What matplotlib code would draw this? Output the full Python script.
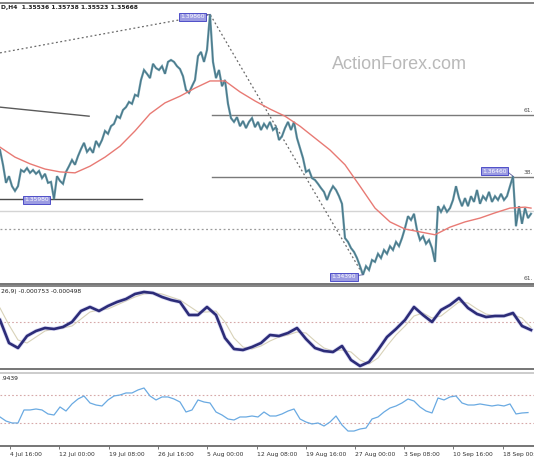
import numpy as np
import matplotlib
matplotlib.use("Agg")
import matplotlib.pyplot as plt

# H4 price closes, one value per bar slot (bar index 0..177)
close = [
    1.3701, 1.3670, 1.3632, 1.3646, 1.3625, 1.3615, 1.3625, 1.3659, 1.3655, 1.3663,
    1.3653, 1.3659, 1.3651, 1.3657, 1.3642, 1.3651, 1.3632, 1.3634, 1.3598, 1.3646,
    1.3636, 1.3630, 1.3655, 1.3667, 1.3680, 1.3670, 1.3688, 1.3703, 1.3716, 1.3697,
    1.3705, 1.3695, 1.3720, 1.3709, 1.3722, 1.3741, 1.3735, 1.3751, 1.3756, 1.3772,
    1.3768, 1.3785, 1.3791, 1.3802, 1.3798, 1.3817, 1.3814, 1.3848, 1.3869, 1.3861,
    1.3852, 1.3882, 1.3873, 1.3869, 1.3877, 1.3861, 1.3886, 1.3890, 1.3886, 1.3877,
    1.3871, 1.3856, 1.3827, 1.3821, 1.3835, 1.3848, 1.3898, 1.3907, 1.3886, 1.3911,
    1.3986, 1.3886, 1.3852, 1.3869, 1.3835, 1.3848, 1.3798, 1.3768, 1.3760, 1.3770,
    1.3751, 1.3762, 1.3747, 1.3760, 1.3768, 1.3749, 1.3760, 1.3743, 1.3756, 1.3747,
    1.3760, 1.3743, 1.3749, 1.3722, 1.3730, 1.3747, 1.3760, 1.3743, 1.3760, 1.3726,
    1.3705, 1.3684, 1.3655, 1.3659, 1.3642, 1.3638, 1.3630, 1.3621, 1.3613, 1.3596,
    1.3613, 1.3625, 1.3617, 1.3604, 1.3588, 1.3516, 1.3508, 1.3495, 1.3487, 1.3474,
    1.3457, 1.3439, 1.3457, 1.3449, 1.3470, 1.3466, 1.3483, 1.3474, 1.3491, 1.3483,
    1.3499, 1.3491, 1.3508, 1.3499, 1.3516, 1.3537, 1.3562, 1.3554, 1.3567, 1.3533,
    1.3512, 1.3520, 1.3504, 1.3512, 1.3495, 1.3466, 1.3583, 1.3571, 1.3583, 1.3571,
    1.3579, 1.3596, 1.3625, 1.3600, 1.3583, 1.3600, 1.3583, 1.3604, 1.3592, 1.3617,
    1.3588, 1.3604, 1.3596, 1.3613, 1.3592, 1.3604, 1.3596, 1.3609, 1.3596, 1.3604,
    1.3625, 1.3646, 1.3541, 1.3583, 1.3546, 1.3579, 1.3558, 1.3567,
]

# moving average (red)
ma_bars = [0, 5, 10, 15, 20, 25, 30, 35, 40, 45, 50, 55, 60, 65, 70, 75, 80, 85, 90, 95,
           100, 105, 110, 115, 120, 125, 130, 135, 140, 145, 150, 155, 160, 165, 170, 175, 177]
ma = [1.3707, 1.3686, 1.3672, 1.3661, 1.3655, 1.3653, 1.3667, 1.3686, 1.3709, 1.3741,
      1.3777, 1.3800, 1.3814, 1.3831, 1.3846, 1.3846, 1.3823, 1.3804, 1.3787, 1.3772,
      1.3751, 1.3726, 1.3701, 1.3670, 1.3625, 1.3579, 1.3550, 1.3535, 1.3529, 1.3523,
      1.3539, 1.3550, 1.3558, 1.3569, 1.3579, 1.3581, 1.3579]

# MACD(12,26,9), every 3 bars
macd = [0.000188, -0.001974, -0.002444, -0.001316, -0.000846, -0.000564, -0.000658, -0.000470, 0.0, 0.001034,
        0.001410, 0.001034, 0.001504, 0.001880, 0.002162, 0.002632, 0.002820, 0.002726, 0.002350, 0.002068,
        0.001880, 0.000658, 0.000658, 0.001410, 0.000658, -0.001504, -0.002538, -0.002632, -0.002350, -0.001974,
        -0.001222, -0.001316, -0.001034, -0.000564, -0.001598, -0.002444, -0.002726, -0.002820, -0.002256, -0.003572,
        -0.004136, -0.003760, -0.002632, -0.001410, -0.000658, 0.000188, 0.001410, 0.000658, 0.0, 0.001128,
        0.001598, 0.002256, 0.001316, 0.000752, 0.000470, 0.000564, 0.000564, 0.000846, -0.000376, -0.000753]
signal = [0.001316, -0.000282, -0.001692, -0.001974, -0.001410, -0.000846, -0.000658, -0.000564, -0.000376, 0.000282,
          0.000940, 0.001128, 0.001222, 0.001598, 0.001974, 0.002350, 0.002632, 0.002726, 0.002632, 0.002350,
          0.002068, 0.001504, 0.000940, 0.000940, 0.001034, 0.0, -0.001504, -0.002350, -0.002538, -0.002256,
          -0.001786, -0.001410, -0.001222, -0.000940, -0.001034, -0.001786, -0.002444, -0.002726, -0.002632, -0.002820,
          -0.003572, -0.003948, -0.003384, -0.002256, -0.001222, -0.000376, 0.000564, 0.000846, 0.000376, 0.000564,
          0.001222, 0.001880, 0.001786, 0.001222, 0.000752, 0.000564, 0.000564, 0.000658, 0.000376, -0.000498]

# RSI, every 2 bars
rsi = [38.6, 32.8, 30.0, 30.0, 48.6, 48.6, 50.0, 48.6, 42.9, 41.4,
       52.9, 47.1, 57.2, 64.3, 68.6, 58.6, 55.7, 54.3, 62.9, 68.6,
       70.0, 72.9, 72.9, 77.2, 80.0, 68.6, 62.9, 67.2, 67.2, 64.3,
       60.0, 45.7, 48.6, 62.9, 60.0, 58.6, 45.7, 41.4, 35.7, 34.3,
       38.6, 38.6, 40.0, 38.6, 45.7, 40.0, 40.0, 42.9, 47.1, 50.0,
       35.7, 31.4, 28.6, 30.0, 25.7, 31.4, 40.0, 27.1, 18.5, 18.5,
       21.4, 22.8, 35.7, 38.6, 45.7, 51.4, 54.3, 58.6, 64.3, 61.4,
       52.9, 47.1, 44.3, 65.7, 62.9, 67.2, 68.6, 58.6, 55.7, 55.7,
       57.2, 55.7, 54.3, 55.7, 54.3, 57.2, 42.9, 44.3, 44.9]

tick_pos = [3.3, 19.7, 36.3, 52.7, 69, 85.7, 102, 118.3, 134.7, 151, 167.7]
tick_labels = ["4 Jul 16:00", "12 Jul 00:00", "19 Jul 08:00", "26 Jul 16:00", "5 Aug 00:00",
               "12 Aug 08:00", "19 Aug 16:00", "27 Aug 00:00", "3 Sep 08:00", "10 Sep 16:00",
               "18 Sep 00:00"]

# drawn objects
fib_levels = [1.3775, 1.3644]
fib_names = ["61.", "38."]
fib_low_name = "61."
fib_low = 1.3424
support = 1.3598
bid_level = 1.3573
dotted_level = 1.3535
trend_x = [0, 29.7]
trend_y = [1.3791, 1.3772]
fan_x = [0, 70, 121]
fan_y = [1.3905, 1.3986, 1.3439]

N = 178
fig = plt.figure(figsize=(5.34, 4.62), dpi=100)
fig.patch.set_facecolor("white")
ax1 = fig.add_axes([0, 0.3853, 1, 0.6082])
ax2 = fig.add_axes([0, 0.2013, 1, 0.1797])
ax3 = fig.add_axes([0, 0.0346, 1, 0.158])

for ax in (ax1, ax2, ax3):
    ax.set_xlim(0, N)
    ax.set_yticks([])
    ax.spines["left"].set_visible(False)
    ax.spines["right"].set_visible(False)
    ax.spines["top"].set_color("#7a7a7a")
    ax.spines["bottom"].set_color("#6a6a6a")
    ax.spines["top"].set_linewidth(1.3)
    ax.spines["bottom"].set_linewidth(1.3)
ax3.spines["top"].set_color("#c8c8c8")

# main price window
ax1.set_ylim(1.34196, 1.40097)
ax1.set_xticks([])
bars = np.arange(len(close))
ax1.axhline(bid_level, color="#d4d4d4", lw=1)
ax1.axhline(dotted_level, color="#9a9a9a", lw=0.9, ls=(0, (1.5, 2)))
ax1.plot([0, 47.3], [support, support], color="#4a4a4a", lw=1)
ax1.plot(trend_x, trend_y, color="#5a5a5a", lw=1)
ax1.plot(fan_x, fan_y, color="#6a6a6a", lw=0.9, ls=(0, (1.5, 2)))
for lvl, name in zip(fib_levels, fib_names):
    ax1.plot([70.7, N], [lvl, lvl], color="#7a7a7a", lw=1)
    ax1.text(N - 0.3, lvl + 0.0004, name, ha="right", va="bottom", fontsize=4.3, color="#505050")
ax1.text(N - 0.3, fib_low + 0.0002, fib_low_name, ha="right", va="bottom", fontsize=4.3, color="#505050")
ax1.plot(bars, close, color="#6896a6", lw=1.6, solid_joinstyle="miter")
ax1.plot(bars, close, color="#3f6f80", lw=0.5)
ax1.plot(ma_bars, ma, color="#e87a74", lw=1)

lab = dict(ha="right", va="center", fontsize=4.3, color="white",
           bbox=dict(boxstyle="square,pad=0.25", fc="#9c9ce2", ec="#3a3ac2", lw=0.6))
ax1.text(68.3, 1.3981, "1.39860", **lab)
ax1.plot([68.3, 70], [1.3983, 1.3986], color="#5a5a9a", lw=0.6)
ax1.text(118.7, 1.3435, "1.34390", **lab)
ax1.plot([118.7, 121], [1.3437, 1.3439], color="#5a5a9a", lw=0.6)
ax1.text(169, 1.3656, "1.36460", **lab)
ax1.plot([169, 171], [1.3656, 1.3646], color="#5a5a9a", lw=0.6)
ax1.text(16.3, 1.3597, "1.35980", **lab)

fig.text(0.749, 0.861, "ActionForex.com", ha="center", va="center",
         fontsize=13, color="#b9b9b9", family="Liberation Sans")
fig.text(0.002, 0.983, "D,H4  1.35536 1.35738 1.35523 1.35668", ha="left", va="center",
         fontsize=4.3, color="#202020", weight="bold")

# MACD window
ax2.set_ylim(-0.004418, 0.003384)
ax2.set_xticks([])
ax2.axhline(0, color="#d6a8a8", lw=0.8, ls=(0, (1.5, 2)))
macd_bars = np.arange(0, N, 3)
ax2.plot(macd_bars, signal, color="#d8d2b8", lw=0.8)
ax2.plot(macd_bars, macd, color="#9a9ae0", lw=3, alpha=0.35)
ax2.plot(macd_bars, macd, color="#2c2c78", lw=1.9)
fig.text(0.002, 0.368, "26,9) -0.000753 -0.000498", ha="left", va="center",
         fontsize=4.3, color="#202020")

# RSI window
ax3.set_ylim(-2.9, 101.4)
ax3.axhline(70, color="#d6a8a8", lw=0.8, ls=(0, (1.5, 2)))
ax3.axhline(30, color="#d6a8a8", lw=0.8, ls=(0, (1.5, 2)))
rsi_bars = np.arange(0, N - 1, 2)
ax3.plot(rsi_bars, rsi, color="#6aaae2", lw=0.9)
fig.text(0.002, 0.18, ".9439", ha="left", va="center", fontsize=4.3, color="#202020")

ax3.set_xticks(tick_pos)
ax3.set_xticklabels(tick_labels, ha="left", fontsize=4.3, color="#303030")
ax3.tick_params(axis="x", direction="out", length=2.5, width=0.6, color="#606060", pad=2)

fig.savefig("out.png", dpi=100, facecolor="white")
